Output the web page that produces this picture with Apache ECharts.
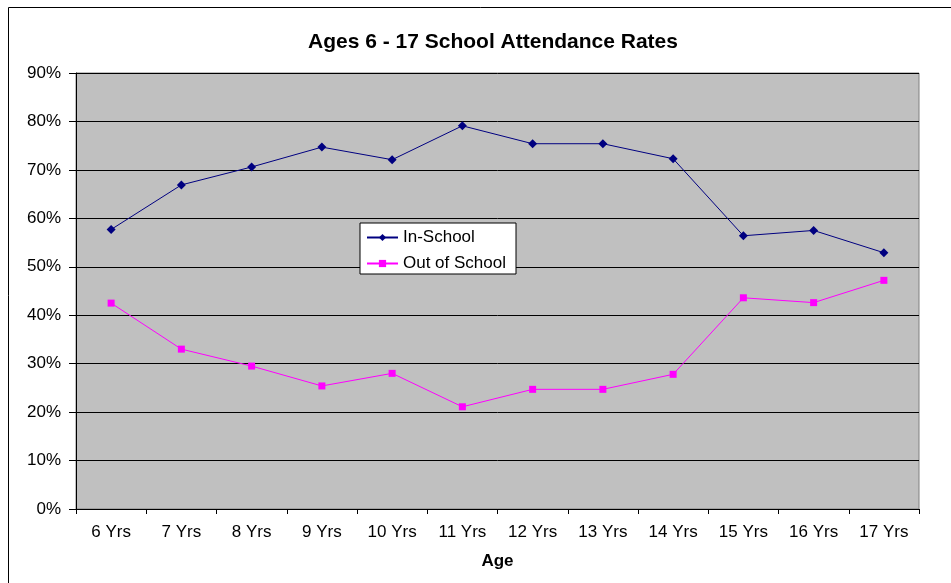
<!DOCTYPE html>
<html>
<head>
<meta charset="utf-8">
<script src="https://cdn.jsdelivr.net/npm/echarts@6/dist/echarts.min.js"></script>
<style>
html,body{margin:0;padding:0;background:#fff;}
#c{width:951px;height:583px;}
</style>
</head>
<body>
<div id="c"></div>
<script>
const categories = ['6 Yrs','7 Yrs','8 Yrs','9 Yrs','10 Yrs','11 Yrs','12 Yrs','13 Yrs','14 Yrs','15 Yrs','16 Yrs','17 Yrs'];
const inSchool = [57.7, 66.9, 70.6, 74.7, 72.1, 79.1, 75.4, 75.4, 72.3, 56.4, 57.5, 52.9];
const outOfSchool = [42.5, 33.0, 29.5, 25.4, 28.0, 21.1, 24.7, 24.7, 27.8, 43.6, 42.6, 47.2];
const yTicks = {min: 0, max: 90, interval: 10};

const FONT = 'Liberation Sans, Arial, sans-serif';
const chart = echarts.init(document.getElementById('c'));
chart.setOption({
  animation: false,
  backgroundColor: '#fff',
  textStyle: {fontFamily: FONT},
  title: {
    text: 'Ages 6 - 17 School Attendance Rates',
    left: 488, top: 27, textAlign: 'center',
    textStyle: {fontFamily: FONT, fontSize: 21, fontWeight: 'bold', color: '#000'}
  },
  graphic: [{
    type: 'rect', silent: true, z: -1,
    shape: {x: 8.5, y: 7.5, width: 1200, height: 1200},
    style: {fill: 'none', stroke: '#000', lineWidth: 1}
  }],
  legend: {
    orient: 'vertical',
    left: 360, top: 223,
    backgroundColor: '#fff',
    borderColor: '#000', borderWidth: 1, borderRadius: 0,
    padding: [6, 10, 2, 6],
    itemWidth: 31, itemHeight: 9, itemGap: 9,
    textStyle: {fontFamily: FONT, fontSize: 17, color: '#000'},
    data: ['In-School', 'Out of School']
  },
  grid: {left: 76, top: 73, right: 32, bottom: 74, show: true, backgroundColor: '#C0C0C0', borderColor: '#808080', borderWidth: 1},
  xAxis: {
    type: 'category',
    data: categories,
    boundaryGap: true,
    name: 'Age',
    nameLocation: 'middle',
    nameGap: 44,
    nameTextStyle: {fontFamily: FONT, fontSize: 17, fontWeight: 'bold', color: '#000'},
    axisLine: {lineStyle: {color: '#000', width: 1}},
    axisTick: {show: true, length: 5, alignWithLabel: false, lineStyle: {color: '#000'}},
    axisLabel: {fontFamily: FONT, fontSize: 17, color: '#000', margin: 15, interval: 0},
    splitLine: {show: false}
  },
  yAxis: {
    type: 'value',
    min: yTicks.min, max: yTicks.max, interval: yTicks.interval,
    axisLine: {show: true, lineStyle: {color: '#000', width: 1}},
    axisTick: {show: true, length: 7, lineStyle: {color: '#000'}},
    axisLabel: {fontFamily: FONT, fontSize: 17, color: '#000', margin: 15, formatter: '{value}%'},
    splitLine: {show: true, lineStyle: {color: '#000', width: 1}}
  },
  series: [
    {
      name: 'In-School', type: 'line', data: inSchool,
      symbol: 'diamond', symbolSize: 9,
      lineStyle: {color: '#000080', width: 1},
      itemStyle: {color: '#000080'}
    },
    {
      name: 'Out of School', type: 'line', data: outOfSchool,
      symbol: 'rect', symbolSize: 7,
      lineStyle: {color: '#FF00FF', width: 1},
      itemStyle: {color: '#FF00FF'}
    }
  ]
});
</script>
</body>
</html>
